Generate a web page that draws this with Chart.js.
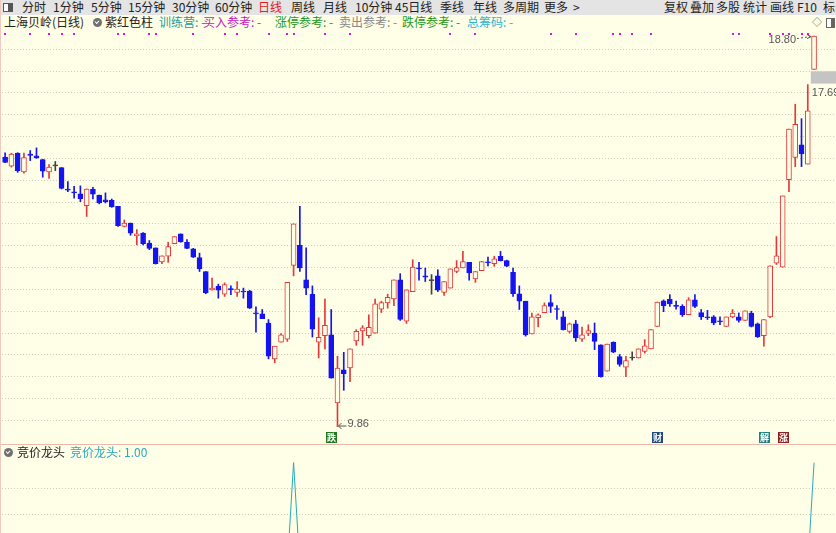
<!DOCTYPE html>
<html>
<head>
<meta charset="utf-8">
<script src="https://cdn.jsdelivr.net/npm/chart.js@4.4.0/dist/chart.umd.min.js"></script>
<style>
  body { margin: 0; width: 836px; height: 533px; overflow: hidden; position: relative;
         background: #fffee6; font-family: "Noto Sans CJK SC", sans-serif; }
  .t { position: absolute; white-space: nowrap; font-size: 12px; line-height: 14px; }
  #toolbar { position: absolute; left: 0; top: 0; width: 836px; height: 15px; background: #e4e4e4; }
  #toolbar .t { top: 0; color: #222; }
  canvas { position: absolute; left: 0; }
  .ico { position: absolute; width: 9px; height: 9px; border-radius: 50%; background: #707070; }
  .ico:after { content: ""; position: absolute; left: 2px; top: 2px; width: 3px; height: 2px;
               border-left: 1px solid #fff; border-bottom: 1px solid #fff; transform: rotate(-45deg); }
</style>
</head>
<body>
<div id="toolbar"></div>
<canvas id="kline" width="836" height="414" style="top:30px"></canvas>
<div style="position:absolute;left:0;top:444px;width:836px;height:1px;background:#ebb9aa"></div>
<div style="position:absolute;left:0;top:0;width:1px;height:533px;background:#f0c8c0"></div>
<canvas id="sub" width="836" height="140" style="top:445px"></canvas>
<div id="texts"></div>
<script>
// 日K数据 (上海贝岭, 130个交易日)
const opens = [
  16.03, 15.82, 16.12, 15.69, 16.10, 16.06, 15.97, 15.69, 15.83, 15.79,
  15.30, 15.23, 15.19, 14.92, 15.29, 15.16, 15.05, 15.04, 14.90, 14.44,
  14.52, 14.23, 14.29, 14.06, 13.95, 13.63, 13.76, 14.05, 14.27, 14.08,
  13.93, 13.73, 13.41, 12.99, 13.07, 12.89, 13.02, 12.93, 12.96, 12.96,
  12.46, 12.44, 12.23, 11.41, 11.79, 11.86, 13.55, 14.01, 13.22, 12.89,
  11.79, 11.94, 11.96, 10.40, 11.16, 11.20, 11.82, 12.05, 11.94, 12.00,
  12.55, 12.69, 12.78, 13.22, 12.27, 12.95, 13.49, 13.31, 13.20, 13.31,
  12.93, 13.03, 13.41, 13.49, 13.62, 13.24, 13.43, 13.63, 13.59, 13.76,
  13.66, 13.39, 12.90, 12.73, 11.98, 12.35, 12.47, 12.70, 12.56, 12.37,
  12.04, 12.21, 11.86, 11.99, 12.00, 11.73, 11.13, 11.79, 11.46, 11.22,
  11.43, 11.43, 11.58, 11.64, 12.15, 12.74, 12.77, 12.63, 12.61, 12.42,
  12.76, 12.47, 12.37, 12.37, 12.28, 12.15, 12.37, 12.37, 12.29, 12.46,
  12.21, 11.94, 12.37, 13.60, 13.51, 15.51, 16.02, 16.31, 15.87, 18.04
];
const highs = [
  16.13, 16.12, 16.13, 16.12, 16.18, 16.24, 15.98, 15.86, 15.93, 15.79,
  15.47, 15.36, 15.37, 15.30, 15.34, 15.16, 15.21, 15.07, 14.90, 14.59,
  14.52, 14.37, 14.30, 14.12, 13.95, 13.77, 14.08, 14.21, 14.27, 14.14,
  13.94, 13.83, 13.41, 13.26, 13.12, 13.15, 13.08, 13.18, 13.03, 12.98,
  12.60, 12.54, 12.31, 11.70, 11.99, 13.16, 14.50, 14.90, 13.95, 13.08,
  12.35, 12.78, 12.54, 11.47, 11.56, 11.64, 12.08, 12.17, 12.42, 12.78,
  12.73, 12.89, 13.22, 13.36, 12.99, 13.68, 13.62, 13.49, 13.34, 13.45,
  13.18, 13.47, 13.66, 13.87, 13.62, 13.41, 13.64, 13.74, 13.76, 13.87,
  13.67, 13.49, 13.08, 12.73, 12.46, 12.44, 12.69, 12.88, 12.63, 12.50,
  12.23, 12.29, 12.14, 12.19, 12.23, 11.73, 11.75, 11.80, 11.51, 11.47,
  11.57, 11.64, 11.85, 12.08, 12.71, 12.76, 12.88, 12.73, 12.65, 12.81,
  12.88, 12.54, 12.52, 12.40, 12.37, 12.37, 12.54, 12.46, 12.51, 12.50,
  12.23, 12.31, 13.54, 14.21, 15.14, 16.67, 17.24, 16.91, 17.69, 18.80
];
const lows = [
  15.90, 15.80, 15.68, 15.66, 15.95, 16.00, 15.57, 15.54, 15.72, 15.30,
  15.24, 15.09, 15.01, 14.67, 15.07, 14.96, 14.98, 14.88, 14.44, 14.43,
  14.24, 14.02, 14.02, 13.91, 13.58, 13.59, 13.62, 14.05, 14.08, 13.93,
  13.73, 13.41, 12.90, 12.98, 12.80, 12.84, 12.88, 12.84, 12.80, 12.56,
  12.02, 12.33, 11.41, 11.32, 11.79, 11.81, 13.31, 13.41, 12.88, 11.91,
  11.43, 11.64, 10.97, 9.86, 10.69, 10.89, 11.72, 11.72, 11.89, 12.00,
  12.47, 12.57, 12.63, 12.29, 12.22, 12.95, 13.21, 13.18, 12.89, 12.95,
  12.86, 13.03, 13.38, 13.49, 13.21, 13.16, 13.43, 13.54, 13.53, 13.65,
  13.52, 12.84, 12.54, 11.93, 11.98, 12.14, 12.47, 12.47, 12.31, 12.07,
  12.00, 11.81, 11.81, 11.94, 11.62, 10.99, 11.13, 11.55, 11.24, 11.00,
  11.38, 11.43, 11.54, 11.64, 12.15, 12.49, 12.61, 12.55, 12.38, 12.42,
  12.58, 12.31, 12.31, 12.19, 12.19, 12.15, 12.35, 12.25, 12.29, 12.14,
  11.90, 11.70, 12.35, 13.57, 13.51, 15.24, 15.81, 15.81, 15.87, 18.04
];
const closes = [
  15.91, 16.10, 15.72, 16.02, 16.07, 16.01, 15.71, 15.80, 15.83, 15.31,
  15.27, 15.21, 15.08, 15.30, 15.18, 14.98, 15.01, 14.89, 14.46, 14.52,
  14.29, 14.27, 14.05, 13.94, 13.59, 13.77, 13.98, 14.21, 14.09, 13.94,
  13.74, 13.47, 12.92, 13.03, 12.98, 13.11, 12.99, 13.01, 12.94, 12.57,
  12.44, 12.33, 11.47, 11.70, 11.96, 13.16, 14.50, 13.49, 13.03, 12.09,
  11.90, 12.18, 10.97, 11.20, 11.07, 11.64, 12.04, 12.12, 12.13, 12.67,
  12.70, 12.82, 13.22, 12.31, 12.99, 13.51, 13.47, 13.28, 13.20, 12.98,
  13.18, 13.47, 13.50, 13.64, 13.38, 13.41, 13.64, 13.61, 13.70, 13.66,
  13.53, 12.90, 12.73, 11.96, 12.37, 12.42, 12.63, 12.61, 12.54, 12.08,
  12.21, 11.89, 11.96, 12.06, 11.81, 11.00, 11.75, 11.56, 11.28, 11.37,
  11.43, 11.64, 11.71, 12.08, 12.71, 12.63, 12.67, 12.61, 12.42, 12.76,
  12.61, 12.37, 12.35, 12.23, 12.26, 12.37, 12.46, 12.29, 12.51, 12.15,
  11.91, 12.31, 13.54, 13.77, 15.14, 16.67, 16.78, 16.10, 17.09, 18.80
];
// 竞价龙头 指标值
const auctionLead = [
  0, 0, 0, 0, 0, 0, 0, 0, 0, 0,
  0, 0, 0, 0, 0, 0, 0, 0, 0, 0,
  0, 0, 0, 0, 0, 0, 0, 0, 0, 0,
  0, 0, 0, 0, 0, 0, 0, 0, 0, 0,
  0, 0, 0, 0, 0, 0, 1, 0, 0, 0,
  0, 0, 0, 0, 0, 0, 0, 0, 0, 0,
  0, 0, 0, 0, 0, 0, 0, 0, 0, 0,
  0, 0, 0, 0, 0, 0, 0, 0, 0, 0,
  0, 0, 0, 0, 0, 0, 0, 0, 0, 0,
  0, 0, 0, 0, 0, 0, 0, 0, 0, 0,
  0, 0, 0, 0, 0, 0, 0, 0, 0, 0,
  0, 0, 0, 0, 0, 0, 0, 0, 0, 0,
  0, 0, 0, 0, 0, 0, 0, 0, 0, 1
];
// 紫红色柱信号日
const signalDays = [0, 4, 7, 9, 11, 18, 19, 23, 24, 30, 35, 37, 42, 45, 46, 51, 55,
  71, 75, 87, 91, 97, 98, 100, 103, 116, 117, 122, 124, 125, 127, 128];
// 事件标记
const markDays = [52, 104, 121, 124];
const markTexts = ['跌', '财', '解', '涨'];
// 坐标轴范围与网格
const priceMin = 9.46, priceMax = 18.94;
const priceGrid = [10, 10.5, 11, 11.5, 12, 12.5, 13, 13.5, 14, 14.5, 15, 15.5, 16, 16.5, 17, 17.5, 18, 18.5];
const subMin = -0.18, subMax = 1.17;
const subGrid = [0.5, 0.75];

const BG = '#fffee6', RED = '#e23a3a', BLUE = '#1414f0', FLAT = '#404040';
const markColors = ['#1f7a1f', '#1f4a7a', '#1f8080', '#8c1f1f'];

const candleColor = opens.map((o, i) => closes[i] > o ? RED : (closes[i] < o ? BLUE : FLAT));
const bodyFill = candleColor.map(c => c === RED ? BG : c);
const bodies = opens.map((o, i) => ({ x: i, y: [Math.min(o, closes[i]), Math.max(o, closes[i])] }));
const wicks = lows.map((l, i) => ({ x: i, y: [l, highs[i]] }));

// 顶部工具栏和标题文字
function addText(parent, text, left, top, color, extra) {
  const d = document.createElement('div');
  d.className = 't';
  d.textContent = text;
  d.style.left = left + 'px';
  d.style.top = top + 'px';
  d.style.color = color || '#222';
  if (extra) Object.assign(d.style, extra);
  parent.appendChild(d);
  return d;
}
const tb = document.getElementById('toolbar');
[['分时', 22], ['1分钟', 53], ['5分钟', 91], ['15分钟', 128], ['30分钟', 172], ['60分钟', 215],
 ['日线', 258, '#e02020'], ['周线', 291], ['月线', 323], ['10分钟', 355], ['45日线', 395],
 ['季线', 440], ['年线', 473], ['多周期', 503], ['更多', 544], ['>', 573],
 ['复权', 664], ['叠加', 690], ['多股', 716], ['统计', 743], ['画线', 770], ['F10', 797], ['标', 823]
].forEach(a => addText(tb, a[0], a[1], 0, a[2]));
const box = document.createElement('div');
box.style.cssText = 'position:absolute;left:3px;top:3px;width:8px;height:7px;border:1px solid #555;background:linear-gradient(90deg,#fff 50%,#555 50%)';
tb.appendChild(box);

const tx = document.getElementById('texts');
[['上海贝岭(日线)', 4, '#222'], ['紫红色柱', 105, '#222'], ['训练营: -', 159, '#1a9a9a'],
 ['买入参考: -', 203, '#c41ac4'], ['涨停参考: -', 275, '#1a9a1a'], ['卖出参考: -', 339, '#888'],
 ['跌停参考: -', 402, '#1a9a1a'], ['总筹码: -', 467, '#30b4d0']
].forEach(a => addText(tx, a[0], a[1], 15, a[2]));
addText(tx, '◇', 812, 15, '#555', { fontSize: '10px' });
const box2 = document.createElement('div');
box2.style.cssText = 'position:absolute;left:826px;top:18px;width:7px;height:8px;border:1px solid #666;background:linear-gradient(90deg,#fff 50%,#666 50%)';
tx.appendChild(box2);
[[93, 18], [4, 448]].forEach(p => {
  const c = document.createElement('div');
  c.className = 'ico';
  c.style.left = p[0] + 'px';
  c.style.top = p[1] + 'px';
  tx.appendChild(c);
});
addText(tx, '竞价龙头', 17, 445, '#222');
addText(tx, '竞价龙头: 1.00', 70, 445, '#2aa8c0');

// 叠加绘制: 信号点、缺口、极值标注、事件标记
const overlay = {
  id: 'overlay',
  beforeDatasetsDraw(chart) {
    const { ctx, chartArea, scales: { x, y } } = chart;
    const n = opens.length - 1;
    if (lows[n] > highs[n - 1]) {
      const top = y.getPixelForValue(lows[n]) + 2;
      const bot = y.getPixelForValue(highs[n - 1]) - 1;
      ctx.fillStyle = '#c4c4c4';
      ctx.fillRect(x.getPixelForValue(n - 1) + 3, top, chartArea.right - x.getPixelForValue(n - 1) - 3, bot - top);
    }
  },
  afterDatasetsDraw(chart) {
    const { ctx, chartArea, scales: { x, y } } = chart;
    ctx.save();
    ctx.fillStyle = '#e010e0';
    signalDays.forEach(d => ctx.fillRect(Math.round(x.getPixelForValue(d)) - 1, chartArea.top + 3, 2, 2));

    ctx.font = '11px "Liberation Sans"';
    ctx.fillStyle = '#555';
    ctx.strokeStyle = '#555';
    ctx.lineWidth = 1;
    // 最高价
    const hi = highs.indexOf(Math.max(...highs));
    let px = x.getPixelForValue(hi), py = y.getPixelForValue(highs[hi]);
    ctx.textAlign = 'right';
    ctx.textBaseline = 'middle';
    ctx.fillText(highs[hi].toFixed(2), px - 18, py + 4);
    ctx.setLineDash([2, 2]);
    ctx.beginPath();
    ctx.moveTo(px - 17, py + 2.5);
    ctx.lineTo(px - 4, py + 0.5);
    ctx.stroke();
    ctx.setLineDash([]);
    ctx.beginPath();
    ctx.moveTo(px - 7, py - 1.5);
    ctx.lineTo(px - 3, py + 0.5);
    ctx.lineTo(px - 7, py + 2.5);
    ctx.stroke();
    // 最低价
    const lo = lows.indexOf(Math.min(...lows));
    px = x.getPixelForValue(lo); py = y.getPixelForValue(lows[lo]);
    ctx.beginPath();
    ctx.moveTo(px + 1, py - 0.5);
    ctx.lineTo(px + 9, py - 0.5);
    ctx.moveTo(px + 4, py - 3.5);
    ctx.lineTo(px + 1, py - 0.5);
    ctx.lineTo(px + 4, py + 2.5);
    ctx.stroke();
    ctx.textAlign = 'left';
    ctx.fillText(lows[lo].toFixed(2), px + 10, py - 3);
    // 缺口上沿
    const g = opens.length - 2;
    ctx.fillText(highs[g].toFixed(2), x.getPixelForValue(g) + 4, y.getPixelForValue(highs[g]) + 8);

    // 事件标记
    ctx.font = 'bold 9px "Noto Sans CJK SC"';
    ctx.textAlign = 'center';
    markDays.forEach((d, k) => {
      const cx = Math.round(x.getPixelForValue(d));
      ctx.fillStyle = markColors[k];
      ctx.fillRect(cx - 5, chartArea.bottom - 12, 11, 11);
      ctx.fillStyle = '#fff';
      ctx.fillText(markTexts[k], cx + 0.5, chartArea.bottom - 6.5);
    });
    ctx.restore();
  }
};

const gridStyle = { color: '#cfcfbd', drawTicks: false, lineWidth: 1, offset: false };

new Chart(document.getElementById('kline'), {
  type: 'bar',
  data: {
    datasets: [
      {
        label: '实体',
        data: bodies,
        backgroundColor: bodyFill,
        borderColor: candleColor,
        borderWidth: 1,
        borderSkipped: false,
        barThickness: 5,
        minBarLength: 1,
        grouped: false
      },
      {
        label: '影线',
        data: wicks,
        backgroundColor: candleColor,
        borderWidth: 0,
        barThickness: 1,
        grouped: false
      }
    ]
  },
  options: {
    responsive: false,
    animation: false,
    layout: { padding: { left: 2, right: 0, top: 0, bottom: 0 } },
    plugins: { legend: { display: false }, tooltip: { enabled: false } },
    scales: {
      x: { type: 'linear', min: -0.5, max: 132.5, offset: false, display: false },
      y: {
        min: priceMin, max: priceMax, position: 'right',
        ticks: { display: false },
        border: { display: false, dash: [1, 2] },
        grid: gridStyle,
        afterBuildTicks: ax => { ax.ticks = priceGrid.map(v => ({ value: v })); }
      }
    }
  },
  plugins: [overlay]
});

new Chart(document.getElementById('sub'), {
  type: 'line',
  data: {
    datasets: [{
      label: '竞价龙头',
      data: auctionLead.map((v, i) => ({ x: i, y: v })),
      borderColor: '#26aab6',
      borderWidth: 1,
      pointRadius: 0,
      tension: 0
    }]
  },
  options: {
    responsive: false,
    animation: false,
    layout: { padding: { left: 2, right: 0, top: 0, bottom: 0 } },
    plugins: { legend: { display: false }, tooltip: { enabled: false } },
    scales: {
      x: { type: 'linear', min: -0.5, max: 132.5, offset: false, display: false },
      y: {
        min: subMin, max: subMax, position: 'right',
        ticks: { display: false },
        border: { display: false, dash: [1, 2] },
        grid: gridStyle,
        afterBuildTicks: ax => { ax.ticks = subGrid.map(v => ({ value: v })); }
      }
    }
  }
});
</script>
</body>
</html>
